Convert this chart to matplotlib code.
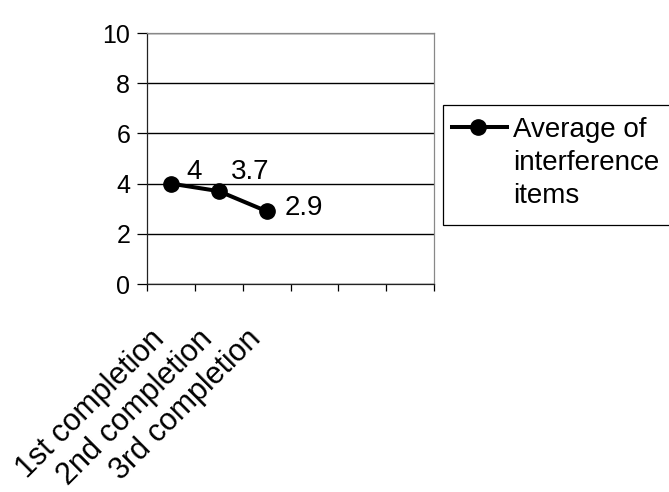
import matplotlib.pyplot as plt
from matplotlib.patches import Rectangle
from matplotlib.lines import Line2D
import numpy as np

plt.rcParams['font.family'] = ['Liberation Sans', 'DejaVu Sans']

categories = ["1st completion", "2nd completion", "3rd completion"]
values = [4, 3.7, 2.9]
value_labels = ["4", "3.7", "2.9"]
legend_lines = ["Average of", "interference", "items"]
n_slots = 6

W, H = 669, 492
fig = plt.figure(figsize=(W/100, H/100), dpi=100)
ax = fig.add_axes([147/W, 1-284/H, (434-147)/W, (284-33)/H])

x = np.arange(len(values))
ax.plot(x, values, color="black", lw=2.9, marker="o", ms=11, clip_on=False, zorder=3)

# data labels (offsets in pixels from the point)
offsets = [(15, 5), (12, 12), (18, -4)]
for xi, v, s, (dx, dy) in zip(x, values, value_labels, offsets):
    ax.annotate(s, (xi, v), xytext=(dx, dy), textcoords="offset pixels",
                fontsize=20, ha="left", va="baseline")

ax.set_xlim(-0.5, n_slots - 0.5)
ax.set_ylim(0, 10)
ax.set_yticks([0, 2, 4, 6, 8, 10])
ax.tick_params(axis="y", labelsize=18, length=7, width=0.9, direction="out", pad=5)
ax.yaxis.grid(True, color="black", lw=1.0)
ax.set_axisbelow(True)

ax.set_xticks(x)
ax.set_xticklabels(categories, rotation=45, ha="right", va="bottom",
                   rotation_mode="anchor", fontsize=22)
ax.set_xticks(np.arange(-0.5, n_slots), minor=True)
ax.tick_params(axis="x", which="major", length=0, pad=44)
ax.tick_params(axis="x", which="minor", length=5, width=0.9, direction="out")

for sp in ax.spines.values():
    sp.set_color("#888888")
    sp.set_linewidth(0.9)
ax.spines["bottom"].set_color("#222222")
ax.spines["left"].set_color("#222222")

# legend box, drawn in figure pixels (runs off the right edge like the original)
ftr = fig.transFigure
def fx(px):
    return px / W
def fy(py):
    return 1 - py / H

fig.patches.append(Rectangle((fx(443), fy(225)), fx(260), 120/H, transform=ftr,
                             facecolor="white", edgecolor="black", lw=0.9))
fig.lines.append(Line2D([fx(452), fx(507)], [fy(127), fy(127)], transform=ftr,
                        color="black", lw=2.9))
fig.lines.append(Line2D([fx(478)], [fy(127)], transform=ftr, color="black",
                        marker="o", ms=11))
for i, s in enumerate(legend_lines):
    fig.text(fx(513), fy(137 + 33*i), s, fontsize=20, ha="left", va="baseline")

fig.savefig("out.png", dpi=100)
